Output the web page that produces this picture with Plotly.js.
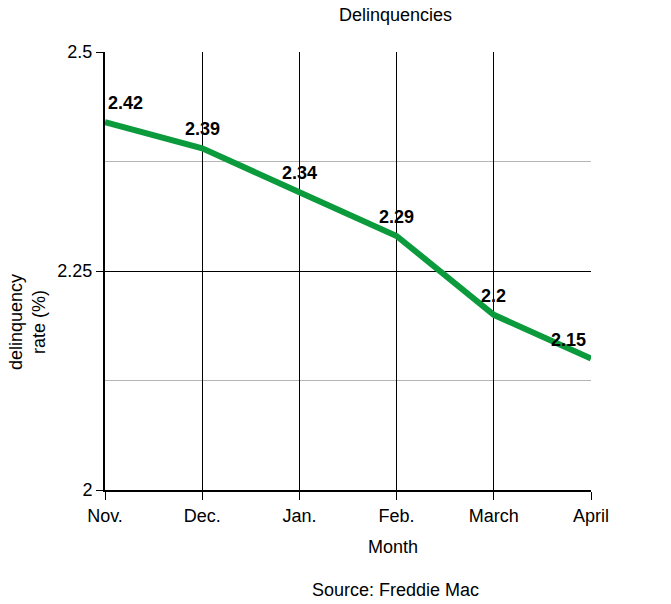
<!DOCTYPE html>
<html>
<head>
<meta charset="utf-8">
<script src="https://cdn.plot.ly/plotly-3.0.1.min.js"></script>
<style>html,body{margin:0;padding:0;background:#fff;}#chart{width:671px;height:604px;}</style>
</head>
<body>
<div id="chart"></div>
<script>
const months = ["Nov.", "Dec.", "Jan.", "Feb.", "March", "April"];
const rates = [2.42, 2.39, 2.34, 2.29, 2.2, 2.15];
const rateLabels = ["2.42", "2.39", "2.34", "2.29", "2.2", "2.15"];
const yTicks = [2, 2.25, 2.5];
const yTickText = ["2", "2.25", "2.5"];

const font = "Liberation Sans, Arial, sans-serif";
const fs = 18;

const trace = {
  x: months,
  y: rates,
  type: "scatter",
  mode: "lines",
  line: {color: "#0b9a3c", width: 6},
  cliponaxis: false,
  hoverinfo: "x+y"
};

const n = months.length;
const valueLabels = months.map((m, i) => ({
  x: m, y: rates[i], xref: "x", yref: "y",
  text: "<b>" + rateLabels[i] + "</b>",
  showarrow: false,
  xanchor: i === 0 ? "left" : (i === n - 1 ? "right" : "center"),
  yanchor: "bottom",
  xshift: i === 0 ? 1 : (i === n - 1 ? -3 : 0),
  yshift: 7,
  font: {family: font, size: fs, color: "#000"}
}));

const layout = {
  width: 671, height: 604,
  margin: {l: 105, r: 80, t: 52, b: 114},
  paper_bgcolor: "#fff", plot_bgcolor: "#fff",
  showlegend: false,
  font: {family: font, size: fs, color: "#000"},
  xaxis: {
    type: "category",
    range: [0, 5],
    showgrid: true, gridcolor: "#000", gridwidth: 1,
    showline: true, linecolor: "#000", linewidth: 2, mirror: false,
    ticks: "outside", ticklen: 8, tickcolor: "#000",
    tickfont: {family: font, size: fs},
    zeroline: false, fixedrange: true
  },
  yaxis: {
    range: [2, 2.5],
    tickvals: yTicks, ticktext: yTickText,
    showgrid: true, gridcolor: "#000", gridwidth: 1,
    minor: {tickvals: [2.125, 2.375], showgrid: true, gridcolor: "#b5b5b5", gridwidth: 1.5, ticks: ""},
    showline: true, linecolor: "#000", linewidth: 2,
    ticks: "outside", ticklen: 7, tickcolor: "#000",
    tickfont: {family: font, size: fs},
    zeroline: false, fixedrange: true
  },
  annotations: valueLabels.concat([
    {text: "Delinquencies", xref: "paper", yref: "paper", x: (395-105)/486, y: 1 + (52-15)/438, showarrow: false, font: {family: font, size: fs}, xanchor: "center", yanchor: "middle"},
    {text: "Month", xref: "paper", yref: "paper", x: (393-105)/486, y: -(547-490)/438, showarrow: false, font: {family: font, size: fs}, xanchor: "center", yanchor: "middle"},
    {text: "Source: Freddie Mac", xref: "paper", yref: "paper", x: (395-105)/486, y: -(590-490)/438, showarrow: false, font: {family: font, size: fs}, xanchor: "center", yanchor: "middle"},
    {text: "delinquency<br>rate (%)", xref: "paper", yref: "paper", x: -(105-27)/486, y: (490-322)/438, showarrow: false, textangle: -90, font: {family: font, size: fs}, xanchor: "center", yanchor: "middle"}
  ])
};

Plotly.newPlot("chart", [trace], layout, {displayModeBar: false, staticPlot: true});
</script>
</body>
</html>
